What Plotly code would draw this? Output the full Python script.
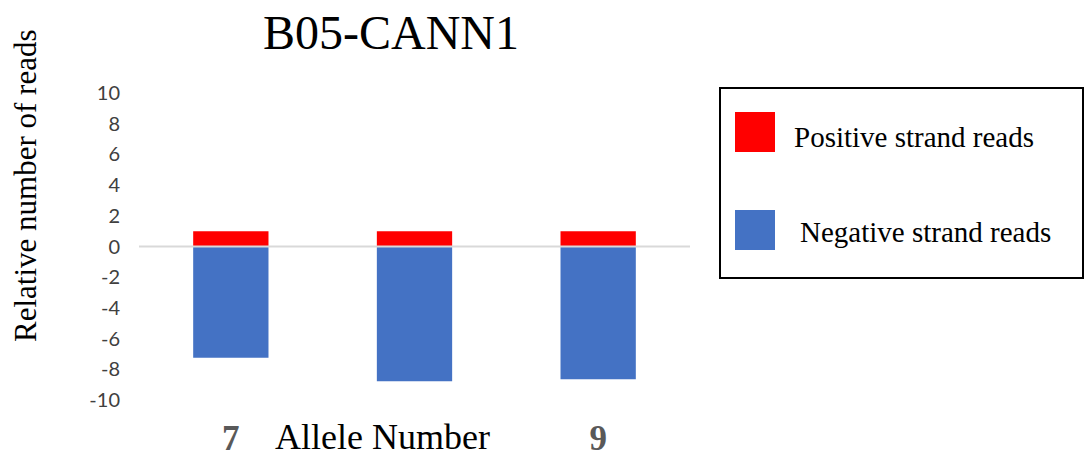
import plotly.graph_objects as go

# Data
alleles = [7, 8, 9]
x_tick_labels = ["7", "", "9"]
positive_reads = [1.0, 1.0, 1.0]
negative_reads = [-7.25, -8.78, -8.65]
y_tick_values = [10, 8, 6, 4, 2, 0, -2, -4, -6, -8, -10]
y_tick_labels = ["10", "8", "6", "4", "2", "0", "-2", "-4", "-6", "-8", "-10"]

W, H = 1085, 459
L, R, T, B = 139, 690, 93, 400  # plot area in pixels


def px(x):
    return (x - L) / (R - L)


def py(y):
    return (B - y) / (B - T)


serif = "Liberation Serif, Times New Roman, serif"

fig = go.Figure()
fig.add_trace(go.Bar(x=alleles, y=positive_reads, name="Positive strand reads",
                     marker=dict(color="#FF0000", line=dict(width=0)), showlegend=False))
fig.add_trace(go.Bar(x=alleles, y=negative_reads, name="Negative strand reads",
                     marker=dict(color="#4472C4", line=dict(width=0)), showlegend=False))

shapes = [
    # zero line
    dict(type="line", xref="paper", yref="y", x0=0, x1=1, y0=0, y1=0,
         line=dict(color="#D9D9D9", width=2), layer="above"),
    # legend box
    dict(type="rect", xref="paper", yref="paper", x0=px(720), x1=px(1083), y0=py(88), y1=py(278),
         line=dict(color="black", width=2), fillcolor="white", layer="above"),
    dict(type="rect", xref="paper", yref="paper", x0=px(735), x1=px(775), y0=py(112), y1=py(152),
         line=dict(width=0), fillcolor="#FF0000", layer="above"),
    dict(type="rect", xref="paper", yref="paper", x0=px(735), x1=px(775), y0=py(210), y1=py(250),
         line=dict(width=0), fillcolor="#4472C4", layer="above"),
]

annotations = [
    dict(text="Positive strand reads", xref="paper", yref="paper", x=px(792), y=py(137),
         xanchor="left", yanchor="middle", showarrow=False,
         font=dict(family=serif, size=29, color="black")),
    dict(text="Negative strand reads", xref="paper", yref="paper", x=px(798), y=py(232),
         xanchor="left", yanchor="middle", showarrow=False,
         font=dict(family=serif, size=29, color="black")),
    dict(text="Allele Number", xref="paper", yref="paper", x=px(382), y=py(437),
         xanchor="center", yanchor="middle", showarrow=False,
         font=dict(family=serif, size=36, color="black")),
    dict(text="Relative number of reads", xref="paper", yref="paper", x=px(25), y=py(186),
         xanchor="center", yanchor="middle", showarrow=False, textangle=-90,
         font=dict(family=serif, size=31, color="black")),
]

fig.update_layout(
    width=W, height=H,
    margin=dict(l=L, r=W - R, t=T, b=H - B, pad=0, autoexpand=False),
    paper_bgcolor="white", plot_bgcolor="white",
    barmode="relative", bargap=0.59,
    title=dict(text="B05-CANN1", x=px(391), xanchor="center", xref="paper",
               y=1 - 32 / H, yanchor="middle", yref="container",
               font=dict(family=serif, size=48, color="black")),
    xaxis=dict(range=[6.5, 9.5], tickvals=alleles, ticktext=x_tick_labels,
               showgrid=False, zeroline=False, showline=False, ticks="",
               ticklabelstandoff=14, automargin=False,
               tickfont=dict(family=serif, size=35, color="#595959", weight="bold")),
    yaxis=dict(range=[-10, 10], tickvals=y_tick_values, ticktext=y_tick_labels,
               showgrid=False, zeroline=False,
               showline=False, ticks="", ticklabelstandoff=18, automargin=False,
               tickfont=dict(family="Lato, Carlito, Calibri, sans-serif", size=20, color="#404040")),
    shapes=shapes,
    annotations=annotations,
)

fig.write_html("out.html", config={"displayModeBar": False},
               post_script="document.body.style.margin='0';document.body.style.overflow='hidden';")
